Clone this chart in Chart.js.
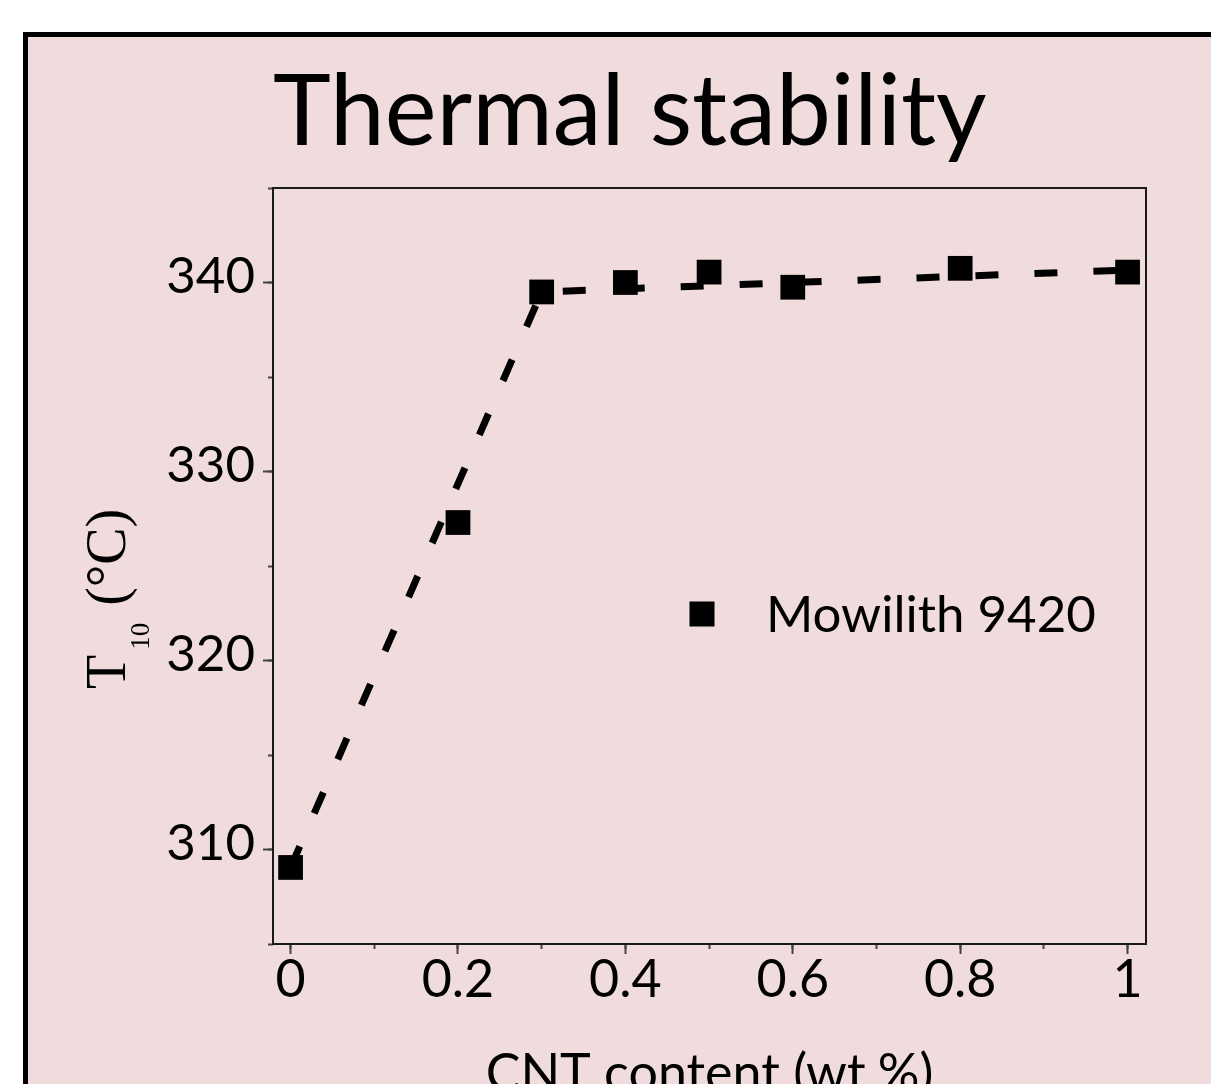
<!DOCTYPE html>
<html>
<head>
<meta charset="utf-8">
<title>Thermal stability</title>
<script src="https://cdn.jsdelivr.net/npm/chart.js@4.4.1/dist/chart.umd.min.js"></script>
<style>
  html, body { margin: 0; padding: 0; width: 1211px; height: 1084px; overflow: hidden; background: #fff; }
  #frame { position: absolute; left: 23px; top: 32px; width: 1300px; height: 1200px;
           border-top: 5px solid #000; border-left: 5px solid #000; background: #f0dcdc; }
  #chart { position: absolute; left: 0; top: 0; }
</style>
</head>
<body>
<div id="frame"></div>
<canvas id="chart" width="1211" height="1160"></canvas>
<script>
// values
var cntContent = [0, 0.2, 0.3, 0.4, 0.5, 0.6, 0.8, 1.0];
var t10 = [309.05, 327.3, 339.5, 340.0, 340.55, 339.75, 340.75, 340.55];

// dashed guide line (two straight pieces)
var fitX = [0, 0.3, 1.0];
var fitY = [309.05, 339.5, 340.66];

// ticks
var xMajorTicks = [0, 0.2, 0.4, 0.6, 0.8, 1];
var xMinorTicks = [0, 0.1, 0.2, 0.3, 0.4, 0.5, 0.6, 0.7, 0.8, 0.9, 1];
var yMajorTicks = [310, 320, 330, 340];
var yMinorTicks = [305, 310, 315, 320, 325, 330, 335, 340, 345];

var seriesName = 'Mowilith 9420';

function toTicks(arr) {
  return arr.map(function (v) { return { value: v }; });
}

// box around plot (top + right side)
var plotFrame = {
  id: 'plotFrame',
  afterDraw: function (chart) {
    var a = chart.chartArea, ctx = chart.ctx;
    ctx.save();
    ctx.strokeStyle = '#1a1a1a';
    ctx.lineWidth = 2;
    ctx.beginPath();
    ctx.moveTo(a.left, a.top);
    ctx.lineTo(a.right, a.top);
    ctx.lineTo(a.right, a.bottom);
    ctx.stroke();
    ctx.restore();
  }
};

// y title with subscript: T10 (°C)
var yTitle = {
  id: 'yTitle',
  afterDraw: function (chart) {
    var ctx = chart.ctx;
    ctx.save();
    ctx.translate(125, 689);
    ctx.rotate(-Math.PI / 2);
    ctx.fillStyle = '#000';
    ctx.textBaseline = 'alphabetic';
    ctx.font = '56px "Liberation Serif"';
    ctx.fillText('T', 0, 0);
    var x = ctx.measureText('T').width + 5;
    ctx.font = '27px "Liberation Serif"';
    ctx.fillText('10', x, 24);
    x += ctx.measureText('10').width + 3;
    ctx.font = '56px "Liberation Serif"';
    ctx.fillText(' (\u00B0C)', x, 0);
    ctx.restore();
  }
};

// legend inside the plot
var innerLegend = {
  id: 'innerLegend',
  afterDraw: function (chart) {
    var a = chart.chartArea, ctx = chart.ctx;
    var cx = a.left + 429, cy = a.top + 426;
    ctx.save();
    ctx.fillStyle = '#000';
    ctx.fillRect(cx - 12.5, cy - 12.5, 25, 25);
    ctx.font = '51px Lato';
    ctx.textBaseline = 'alphabetic';
    ctx.fillText(chart.data.datasets[0].label, cx + 64, cy + 18);
    ctx.restore();
  }
};

var tickFontY = { family: "'Liberation Sans Narrow', Lato", size: 51, lineHeight: 1 };
var tickFontX = { family: 'Lato', size: 52, lineHeight: 1 };

new Chart(document.getElementById('chart'), {
  type: 'scatter',
  data: {
    datasets: [
      {
        label: seriesName,
        data: cntContent.map(function (x, i) { return { x: x, y: t10[i] }; }),
        showLine: false,
        pointStyle: 'rect',
        pointRadius: 17.5,
        pointHoverRadius: 17.5,
        pointBorderWidth: 0,
        pointBackgroundColor: '#000',
        pointBorderColor: '#000'
      },
      {
        label: 'fit',
        data: fitX.map(function (x, i) { return { x: x, y: fitY[i] }; }),
        showLine: true,
        pointRadius: 0,
        borderColor: '#000',
        borderWidth: 7,
        borderDash: [23, 36],
        fill: false,
        tension: 0
      }
    ]
  },
  options: {
    responsive: false,
    animation: false,
    events: [],
    layout: { padding: { left: 0, right: 65, top: 0, bottom: 0 } },
    plugins: {
      legend: { display: false },
      tooltip: { enabled: false },
      title: {
        display: true,
        text: 'Thermal stability',
        align: 'start',
        fullSize: false,
        color: '#000',
        font: { family: 'Lato', size: 98, weight: 'normal', lineHeight: 1 },
        padding: { top: 64, bottom: 26 }
      }
    },
    scales: {
      x: {
        type: 'linear',
        position: 'bottom',
        weight: 1,
        min: -0.021,
        max: 1.022,
        grid: { drawOnChartArea: false, drawTicks: true, tickLength: 10, tickWidth: 2, tickColor: '#444' },
        border: { display: true, color: '#1a1a1a', width: 2 },
        ticks: {
          color: '#000', font: tickFontX, padding: 0, maxRotation: 0, autoSkip: false,
          callback: function (v) { return String(v); }
        },
        title: {
          display: true, text: 'CNT content (wt.%)', color: '#000',
          font: { family: 'Lato', size: 52, lineHeight: 1 },
          padding: { top: 0, bottom: 60 }
        },
        afterBuildTicks: function (s) { s.ticks = toTicks(xMajorTicks); },
        afterFit: function (s) { s.height = 216; }
      },
      x2: {
        type: 'linear',
        position: 'bottom',
        weight: 0,
        min: -0.021,
        max: 1.022,
        grid: { drawOnChartArea: false, drawTicks: true, tickLength: 5, tickWidth: 2, tickColor: '#444' },
        border: { display: false },
        ticks: { display: false },
        afterBuildTicks: function (s) { s.ticks = toTicks(xMinorTicks); },
        afterFit: function (s) { s.height = 0; }
      },
      y: {
        type: 'linear',
        position: 'left',
        weight: 1,
        min: 305,
        max: 345,
        grid: { drawOnChartArea: false, drawTicks: true, tickLength: 10, tickWidth: 2, tickColor: '#444' },
        border: { display: true, color: '#1a1a1a', width: 2 },
        ticks: {
          color: '#000', font: tickFontY, padding: 8, labelOffset: -6,
          callback: function (v) { return String(v); }
        },
        afterBuildTicks: function (s) { s.ticks = toTicks(yMajorTicks); },
        afterFit: function (s) { s.width = 273; }
      },
      y2: {
        type: 'linear',
        position: 'left',
        weight: 0,
        min: 305,
        max: 345,
        grid: { drawOnChartArea: false, drawTicks: true, tickLength: 5, tickWidth: 2, tickColor: '#444' },
        border: { display: false },
        ticks: { display: false },
        afterBuildTicks: function (s) { s.ticks = toTicks(yMinorTicks); },
        afterFit: function (s) { s.width = 0; }
      }
    }
  },
  plugins: [plotFrame, yTitle, innerLegend]
});
</script>
</body>
</html>
